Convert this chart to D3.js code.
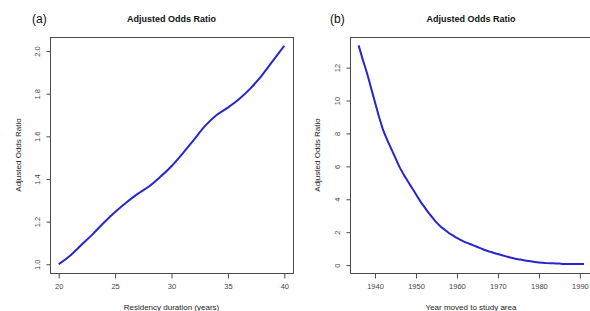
<!DOCTYPE html>
<html>
<head>
<meta charset="utf-8">
<script src="https://cdn.jsdelivr.net/npm/d3@7"></script>
<style>
  body { margin: 0; background: #fff; }
  svg text { font-family: 'Liberation Sans', Arial, sans-serif; }
</style>
</head>
<body>
<div id="chart"></div>
<script>
const WIDTH = 590
const HEIGHT = 311
const LINE_COLOR = '#2626cf'
const BOX_COLOR = '#4a4a4a'

// panel (a): residency duration
const yearsA = [20, 21, 22, 23, 24, 25, 26, 27, 28, 29, 30, 31, 32, 33, 34, 35, 36, 37, 38, 39, 40]
const oddsA = [1.0, 1.04, 1.09, 1.14, 1.195, 1.245, 1.29, 1.33, 1.365, 1.41, 1.46, 1.52, 1.585, 1.65, 1.70, 1.735, 1.775, 1.825, 1.885, 1.955, 2.025]
const xTicksA = [20, 25, 30, 35, 40]
const yTicksA = [1.0, 1.2, 1.4, 1.6, 1.8, 2.0]

// panel (b): year moved to study area
const yearsB = [1936, 1937, 1938, 1939, 1940, 1941, 1942, 1943, 1944, 1945, 1946, 1947, 1948, 1949, 1950,
  1951, 1952, 1953, 1954, 1955, 1956, 1957, 1958, 1959, 1960, 1961, 1962, 1963, 1964, 1965,
  1966, 1967, 1968, 1969, 1970, 1971, 1972, 1973, 1974, 1975, 1976, 1977, 1978, 1979, 1980,
  1981, 1982, 1983, 1984, 1985, 1986, 1987, 1988, 1989, 1990, 1991]
const oddsB = [13.35, 12.5, 11.7, 10.8, 9.9, 9.0, 8.2, 7.6, 7.05, 6.5, 5.95, 5.5, 5.1, 4.7, 4.3,
  3.9, 3.55, 3.2, 2.9, 2.6, 2.35, 2.15, 1.95, 1.8, 1.65, 1.52, 1.4, 1.3, 1.2, 1.1,
  1.0, 0.9, 0.82, 0.74, 0.67, 0.6, 0.53, 0.46, 0.4, 0.36, 0.31, 0.27, 0.23, 0.19, 0.16,
  0.14, 0.12, 0.11, 0.1, 0.09, 0.07, 0.07, 0.06, 0.06, 0.06, 0.06]
const xTicksB = [1940, 1950, 1960, 1970, 1980, 1990]
const yTicksB = [0, 2, 4, 6, 8, 10, 12]

const svg = d3.select('#chart')
  .append('svg')
  .attr('width', WIDTH)
  .attr('height', HEIGHT)

function drawPanel (opts) {
  const { box, xs, ys, xDomain, yDomain, xTicks, yTicks, yFormat, letter, letterX, title, xLabel, yLabelX } = opts
  const g = svg.append('g')

  const x = d3.scaleLinear().domain(xDomain).range([box.left, box.right])
  const y = d3.scaleLinear().domain(yDomain).range([box.bottom, box.top])

  const clipId = 'clip-' + letter
  g.append('clipPath').attr('id', clipId)
    .append('rect')
    .attr('x', box.left).attr('y', box.top)
    .attr('width', box.right - box.left).attr('height', box.bottom - box.top)

  // the curve
  const pts = xs.map((v, i) => [v, ys[i]])
  g.append('path')
    .datum(pts)
    .attr('clip-path', 'url(#' + clipId + ')')
    .attr('fill', 'none')
    .attr('stroke', LINE_COLOR)
    .attr('stroke-width', 2)
    .attr('stroke-linejoin', 'round')
    .attr('d', d3.line().curve(d3.curveMonotoneX)
      .x(d => x(d[0]))
      .y(d => y(d[1])))

  // box
  g.append('rect')
    .attr('x', box.left + 0.5).attr('y', box.top + 0.5)
    .attr('width', box.right - box.left).attr('height', box.bottom - box.top)
    .attr('fill', 'none')
    .attr('stroke', BOX_COLOR)
    .attr('stroke-width', 1)

  // x axis, R style
  const xAxis = g.append('g')
    .attr('transform', 'translate(0,' + (box.bottom + 0.5) + ')')
    .call(d3.axisBottom(x).tickValues(xTicks).tickSize(5).tickPadding(5).tickFormat(d3.format('d')))
  xAxis.select('.domain').attr('d', 'M' + x(xTicks[0]) + ',0H' + x(xTicks[xTicks.length - 1]))
  xAxis.selectAll('line, .domain').attr('stroke', BOX_COLOR)
  xAxis.selectAll('text').attr('fill', '#444').style('font-size', '7.5px')

  // y axis with rotated labels
  const yAxis = g.append('g')
    .attr('transform', 'translate(' + (box.left + 0.5) + ',0)')
    .call(d3.axisLeft(y).tickValues(yTicks).tickSize(4).tickFormat(yFormat))
  yAxis.select('.domain').attr('d', 'M0,' + y(yTicks[0]) + 'V' + y(yTicks[yTicks.length - 1]))
  yAxis.selectAll('line, .domain').attr('stroke', BOX_COLOR)
  yAxis.selectAll('text')
    .attr('fill', '#444')
    .style('font-size', '7.5px')
    .attr('x', null).attr('dy', null)
    .attr('text-anchor', 'middle')
    .attr('transform', 'translate(-11,0) rotate(-90)')

  // texts
  const midX = (box.left + box.right) / 2
  g.append('text')
    .attr('x', letterX).attr('y', 23)
    .style('font-size', '12px')
    .attr('fill', '#111')
    .text('(' + letter + ')')
  g.append('text')
    .attr('x', opts.xLabelX || midX).attr('y', 22)
    .attr('text-anchor', 'middle')
    .style('font-size', '9px')
    .style('font-weight', 'bold')
    .attr('fill', '#111')
    .text(title)
  g.append('text')
    .attr('x', opts.xLabelX || midX).attr('y', 310)
    .attr('text-anchor', 'middle')
    .style('font-size', '8px')
    .attr('fill', '#222')
    .text(xLabel)
  g.append('text')
    .attr('transform', 'translate(' + yLabelX + ',' + ((box.top + box.bottom) / 2) + ') rotate(-90)')
    .attr('text-anchor', 'middle')
    .style('font-size', '8px')
    .attr('fill', '#222')
    .text('Adjusted Odds Ratio')
}

drawPanel({
  box: { left: 50, right: 293, top: 37, bottom: 273 },
  xs: yearsA,
  ys: oddsA,
  xDomain: [19.23, 40.77],
  yDomain: [0.959, 2.066],
  xTicks: xTicksA,
  yTicks: yTicksA,
  yFormat: d3.format('.1f'),
  letter: 'a',
  letterX: 32,
  title: 'Adjusted Odds Ratio',
  xLabel: 'Residency duration (years)',
  yLabelX: 21
})

drawPanel({
  box: { left: 350, right: 593, top: 37, bottom: 273 },
  xs: yearsB,
  ys: oddsB,
  xDomain: [1933.9, 1993.2],
  yDomain: [-0.48, 13.86],
  xTicks: xTicksB,
  yTicks: yTicksB,
  yFormat: d3.format('d'),
  letter: 'b',
  letterX: 330,
  title: 'Adjusted Odds Ratio',
  xLabel: 'Year moved to study area',
  xLabelX: 471,
  yLabelX: 320
})
</script>
</body>
</html>
